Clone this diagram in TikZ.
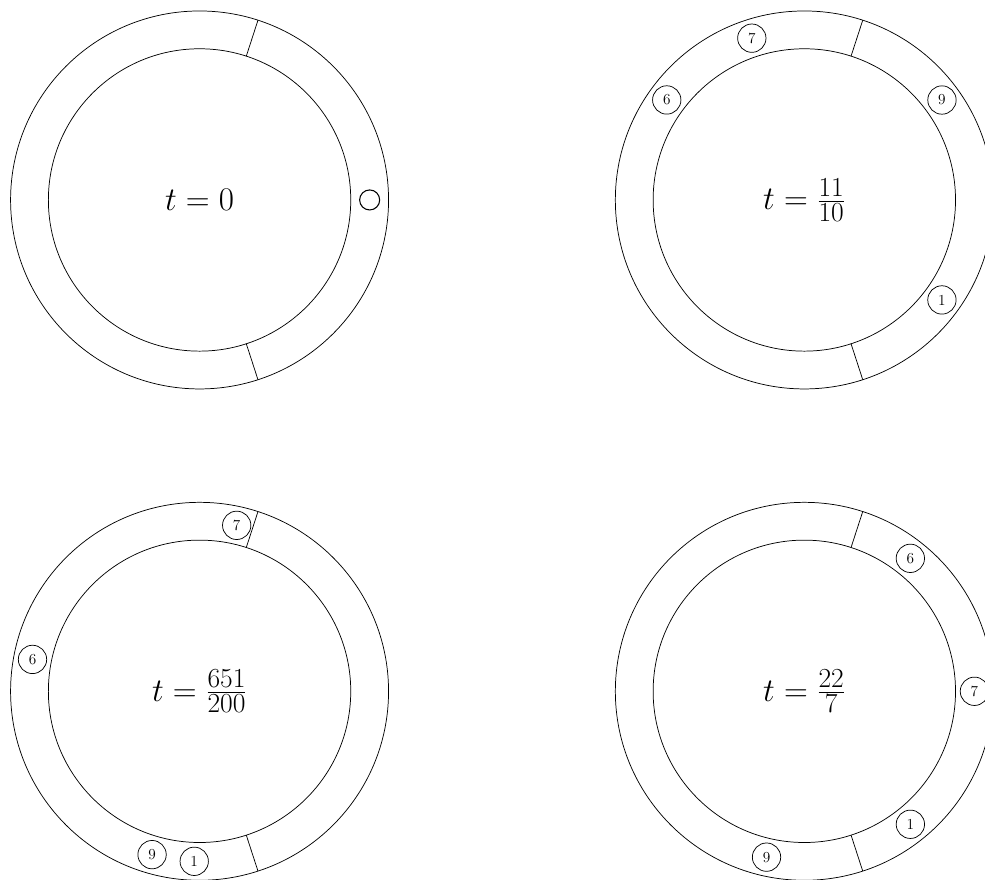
\documentclass[tikz,border=0pt]{standalone}
\usepackage{tikz}
\usetikzlibrary{positioning}

\begin{document}
\begin{tikzpicture}[
    line width=0.55pt,
    bead/.style={draw, circle, minimum size=7.5mm, inner sep=0pt,
                 font=\fontsize{11.5}{13}\selectfont},
    seed/.style={draw, circle, thick, minimum size=5.3mm, inner sep=0pt},
    clock/.style={font=\fontsize{30}{36}\selectfont},
  ]
  \useasboundingbox (-5.28,-17.99) rectangle (20.78,5.29);
  % four snapshots: ring centre, name, time label
  \foreach \cx/\cy/\nm/\lab in {0/0/a/0, 16/0/b/\frac{11}{10},
                                0/-13/c/\frac{651}{200}, 16/-13/d/\frac{22}{7}} {
    \begin{scope}[shift={(\cx,\cy)}]
      \draw (0,0) circle (5);
      \draw (0,0) circle (4);
      % the two walls across the track
      \draw (72:4) -- (72:5);
      \draw (-72:4) -- (-72:5);
      \node[clock] (lab\nm) at (0,0) {$t=\lab$};
    \end{scope}
  }
  % t=0: all beads start together
  \node[seed] (start) at (0:4.5) {};
  % later: bead k has turned -k*t turns
  \foreach \nm/\cx/\cy/\tval in {b/16/0/1.1, c/0/-13/3.255, d/16/-13/3.142857} {
    \begin{scope}[shift={(\cx,\cy)}]
      \foreach \k in {1,6,7,9} {
        \pgfmathsetmacro\ang{-360*mod(\k*\tval,1)}
        \node[bead] (\nm\k) at (\ang:4.5) {\k};
      }
    \end{scope}
  }
\end{tikzpicture}
\end{document}
